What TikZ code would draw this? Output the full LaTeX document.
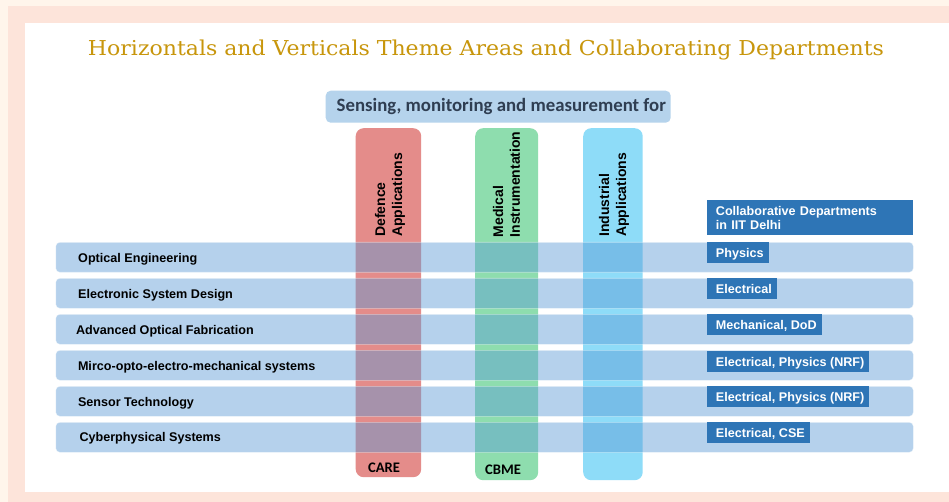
\documentclass[tikz,border=0pt]{standalone}
\usepackage{fontspec}
\usepackage{graphicx}
\setmainfont{Liberation Serif}
\newfontfamily\titlef{DejaVu Serif}
\newfontfamily\arialf{Liberation Sans}
\newfontfamily\calibf{Carlito}
\definecolor{cream}{RGB}{255,245,235}
\definecolor{pinkframe}{RGB}{253,228,218}
\definecolor{titlegold}{RGB}{200,150,12}
\definecolor{defred}{RGB}{228,140,138}
\definecolor{medgreen}{RGB}{142,221,174}
\definecolor{indblue}{RGB}{142,220,248}
\definecolor{rowblue}{RGB}{91,155,213}
\definecolor{senseblue}{RGB}{181,211,236}
\definecolor{sensetext}{RGB}{47,62,82}
\definecolor{deptblue}{RGB}{46,117,182}
\tikzset{
  vbar/.style={rounded corners=8pt, minimum width=65pt, minimum height=350pt, inner sep=0pt, anchor=north west},
  hbar/.style={rounded corners=4pt, fill=rowblue, fill opacity=0.45, draw=white, draw opacity=0.45, line width=0.6pt,
               minimum width=857.5pt, minimum height=30pt, inner sep=0pt, anchor=north west},
  rowtext/.style={anchor=base west, inner sep=0pt, font=\arialf\bfseries\fontsize{12.6}{14}\selectfont, text=black},
  coltext/.style={rotate=90, anchor=west, align=left, inner sep=0pt, font=\arialf\bfseries\fontsize{14}{16.8}\selectfont, text=black},
  depttag/.style={anchor=north west, fill=deptblue, text=white, inner xsep=5pt, inner ysep=0pt,
                  text height=15.7pt, text depth=5.3pt,
                  font=\arialf\bfseries\fontsize{12.6}{14}\selectfont},
  centretag/.style={font=\calibf\bfseries\fontsize{14.6}{17}\selectfont, text=black, inner sep=0pt}
}
\begin{document}
\begin{tikzpicture}[x=1pt,y=-1pt]
\useasboundingbox (0,0) rectangle (949,502);
\fill[cream] (0,0) rectangle (949,502);
\fill[pinkframe] (8,6) rectangle (949,502);
\fill[white] (25,23) rectangle (949,492);

% title
\node[anchor=base, inner sep=0pt, text=titlegold] (title) at (486,55.5)
  {\resizebox{796pt}{\height}{\titlef\fontsize{20.5}{24}\selectfont Horizontals and Verticals Theme Areas and Collaborating Departments}};

% sensing box
\node[fill=senseblue, rounded corners=5pt, minimum width=345pt, minimum height=32pt, inner sep=0pt] (sense) at (498.2,106.7) {};
\node[inner sep=0pt, text=sensetext, font=\calibf\bfseries\fontsize{18.8}{22}\selectfont] (sensetxt) at (501.3,106.5) {Sensing, monitoring and measurement for};

% vertical bars
\node[vbar, fill=defred, minimum width=65.5pt, minimum height=349pt] (vA) at (355.5,128) {};
\node[vbar, fill=medgreen, minimum width=63pt, minimum height=352pt] (vB) at (475,128) {};
\node[vbar, fill=indblue, minimum width=59.5pt, minimum height=352pt] (vC) at (583,128) {};

% vertical labels
\node[coltext] (tA) at (390,237) {Defence\\Applications};
\node[coltext] (tB) at (506.5,237.5) {Medical\\Instrumentation};
\node[coltext] (tC) at (614,237) {Industrial\\Applications};

% horizontal bars
\node[hbar] (r1) at (55.5,242) {};
\node[hbar] (r2) at (55.5,278) {};
\node[hbar] (r3) at (55.5,314) {};
\node[hbar] (r4) at (55.5,350) {};
\node[hbar] (r5) at (55.5,386) {};
\node[hbar] (r6) at (55.5,422) {};

% row texts
\node[rowtext] (l1) at (78,262.3) {Optical Engineering};
\node[rowtext] (l2) at (78,298.3) {Electronic System Design};
\node[rowtext] (l3) at (75.8,334.3) {Advanced Optical Fabrication};
\node[rowtext] (l4) at (77.8,370.3) {Mirco-opto-electro-mechanical systems};
\node[rowtext] (l5) at (77.8,406.3) {Sensor Technology};
\node[rowtext] (l6) at (79.3,441.3) {Cyberphysical Systems};

% department header
\node[anchor=north west, fill=deptblue, text=white, minimum width=206pt,
      text width=188.6pt, inner xsep=8.7pt, inner ysep=0pt, align=left,
      text height=15.7pt, text depth=19.3pt,
      font=\arialf\bfseries\fontsize{12.6}{13.3}\selectfont] (hdr) at (707,200)
  {Collaborative Departments\\in IIT Delhi};

% department tags
\node[depttag] (d1) at (707,242) {\hspace{3.7pt}Physics};
\node[depttag] (d2) at (707,278) {\hspace{3.7pt}Electrical};
\node[depttag] (d3) at (707,314) {\hspace{3.7pt}Mechanical, DoD};
\node[depttag] (d4) at (707,351) {\hspace{3.7pt}Electrical, Physics (NRF)};
\node[depttag] (d5) at (707,386) {\hspace{3.7pt}Electrical, Physics (NRF)};
\node[depttag] (d6) at (707,422) {\hspace{3.7pt}Electrical, CSE};

% centre labels
\node[centretag] (care) at (384,468) {CARE};
\node[centretag] (cbme) at (503,469.5) {CBME};
\end{tikzpicture}
\end{document}
